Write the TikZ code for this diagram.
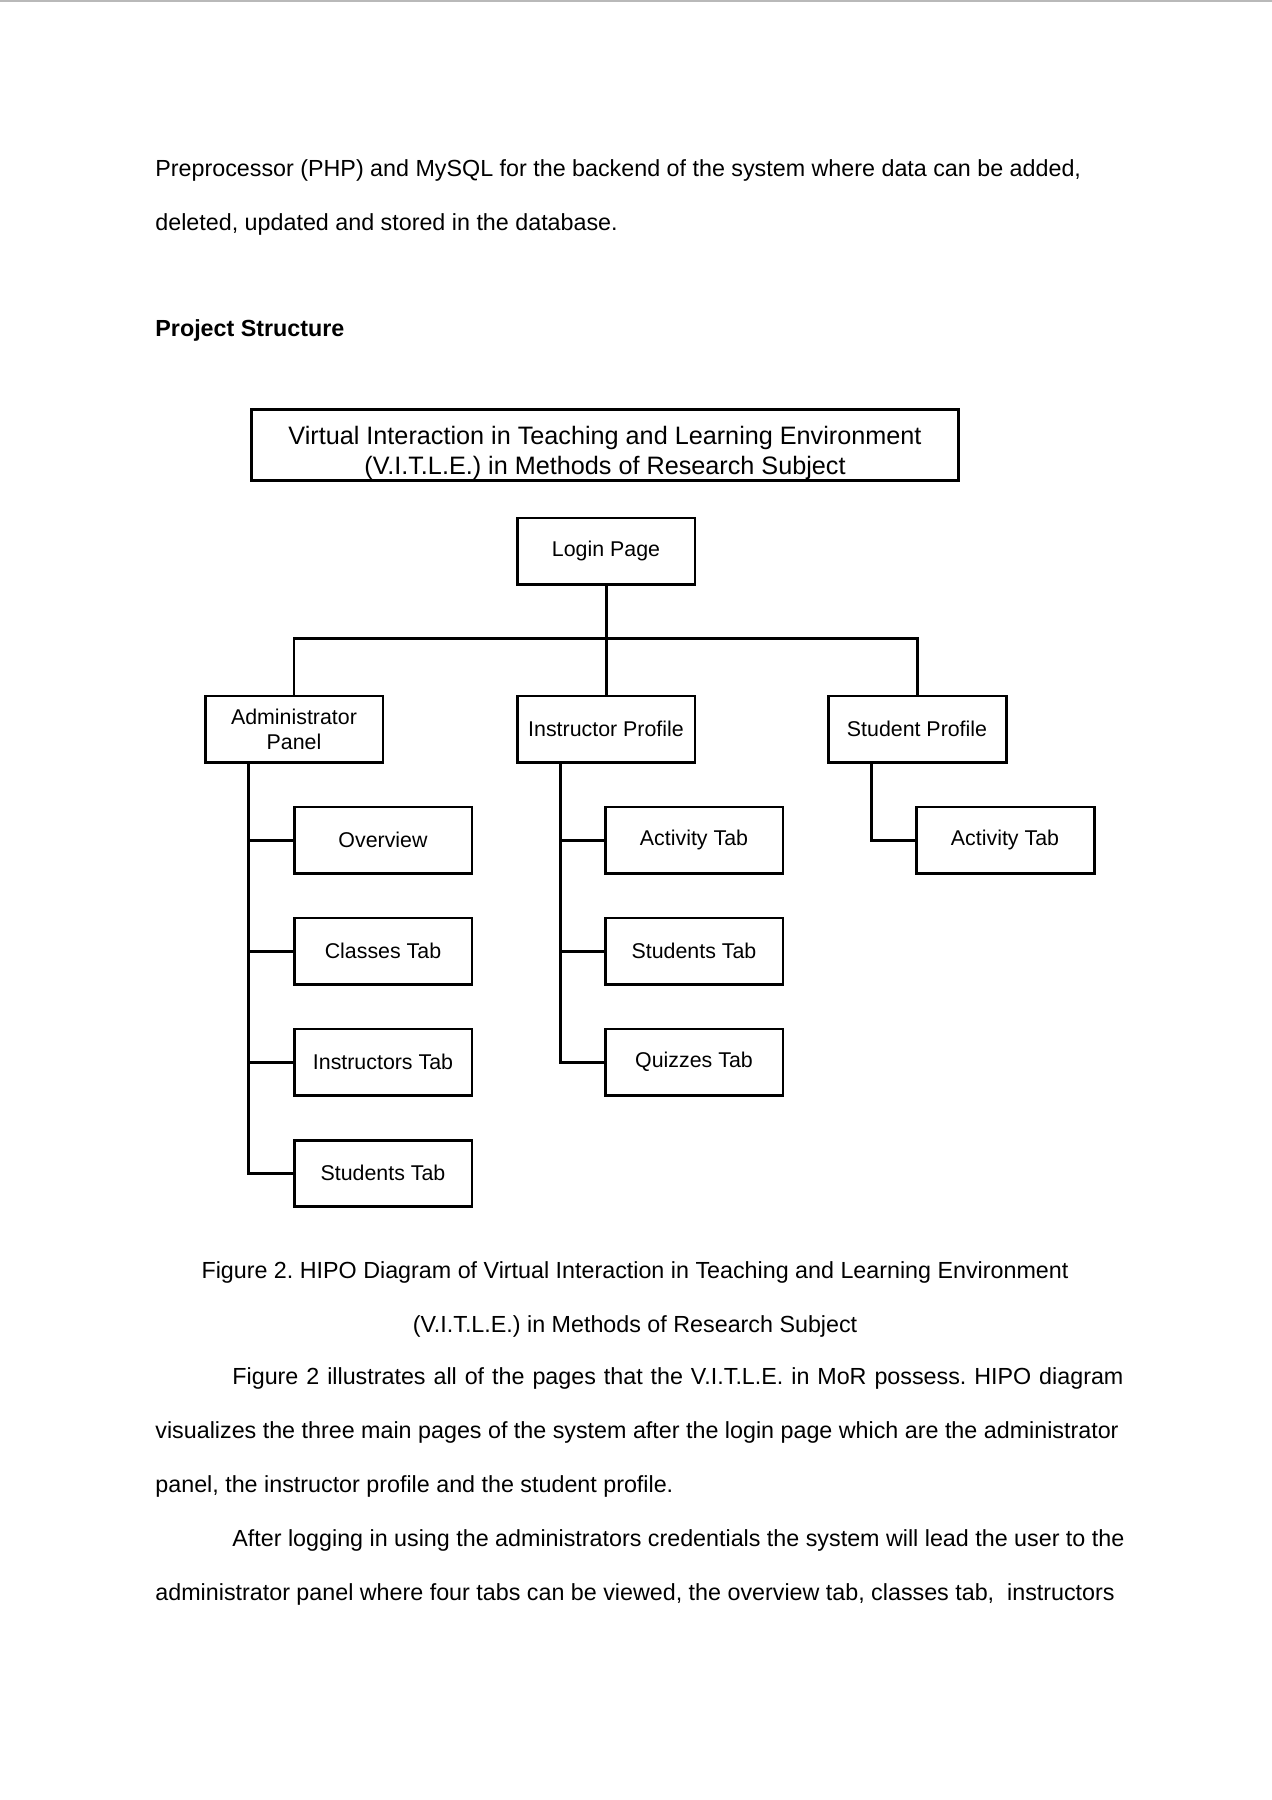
\documentclass[tikz,border=0pt]{standalone}
\usepackage{fontspec}
\setmainfont{Liberation Sans}
\usepackage{tikz}
\usetikzlibrary{calc, positioning}
\frenchspacing

\begin{document}
\begin{tikzpicture}[x=0.468pt, y=-0.468pt,
    box/.style={draw, line width=1.4pt, minimum width=83.3pt, minimum height=30.9pt,
      inner sep=0pt, align=center, font=\fontsize{10}{11.8}\selectfont},
    link/.style={line width=1.4pt},
    bodytext/.style={anchor=base west, inner sep=0pt, font=\fontsize{10.9}{13}\selectfont},
    captext/.style={anchor=base, inner sep=0pt, font=\fontsize{10.9}{13}\selectfont}]
        \useasboundingbox[fill=white] (0,0) rectangle (1272,1800);
        \draw[gray!55, line width=0.9pt] (0,1) -- (1272,1);

        % text above the figure
        \node[bodytext] (p1) at (155,176) {Preprocessor (PHP) and MySQL for the backend of the system where data can be added,};
        \node[bodytext] (p2) at (155,230) {deleted, updated and stored in the database.};
        \node[bodytext, font=\fontsize{10.9}{13}\selectfont\bfseries] (head) at (155,336) {Project Structure};

        % the HIPO diagram
        \node[box, minimum width=331.3pt, minimum height=33.2pt, font=\fontsize{11.8}{14}\selectfont] (title) at (605,445)
            {\rule{0pt}{16pt}Virtual Interaction in Teaching and Learning Environment\\(V.I.T.L.E.) in Methods of Research Subject};

        \node[box] (login) at (606,551) {Login Page};
        \node[box] (admin) at (294,729) {Administrator\\Panel};
        \node[box] (instr) at (606,729) {Instructor Profile};
        \node[box] (stud) at (917,729) {Student Profile};

        \node[box] (overview) at (383,840) {Overview};
        \node[box] (classes) at (383,951) {Classes Tab};
        \node[box] (instrtab) at (383,1062) {Instructors Tab};
        \node[box] (studtab) at (383,1173) {Students Tab};

        \node[box] (iactivity) at (694,840) {Activity Tab};
        \node[box] (istudents) at (694,951) {Students Tab};
        \node[box] (iquizzes) at (694,1062) {Quizzes Tab};

        \node[box] (sactivity) at (1005,840) {Activity Tab};

        \coordinate (bus) at (606,638);
        \draw[link] (login.south) -- (instr.north);
        \draw[link] (admin.north) |- (bus) -| (stud.north);

        \coordinate (aroot) at ($(admin.south west)!.25!(admin.south east)$);
        \coordinate (iroot) at ($(instr.south west)!.25!(instr.south east)$);
        \coordinate (sroot) at ($(stud.south west)!.25!(stud.south east)$);

        \foreach \kid in {overview, classes, instrtab, studtab}
            \draw[link] (aroot) |- (\kid.west);
        \foreach \kid in {iactivity, istudents, iquizzes}
            \draw[link] (iroot) |- (\kid.west);
        \draw[link] (sroot) |- (sactivity.west);

        % caption and text below
        \node[captext] (cap1) at (635,1278) {Figure 2. HIPO Diagram of Virtual Interaction in Teaching and Learning Environment};
        \node[captext] (cap2) at (635,1332) {(V.I.T.L.E.) in Methods of Research Subject};

        \node[bodytext] (q1) at (232,1384) {\makebox[417pt][s]{Figure 2 illustrates all of the pages that the V.I.T.L.E. in MoR possess. HIPO diagram}};
        \node[bodytext] (q2) at (155,1438) {visualizes the three main pages of the system after the login page which are the administrator};
        \node[bodytext] (q3) at (155,1492) {panel, the instructor profile and the student profile.};
        \node[bodytext] (q4) at (232,1546) {After logging in using the administrators credentials the system will lead the user to the};
        \node[bodytext] (q5) at (155,1600) {administrator panel where four tabs can be viewed, the overview tab, classes tab,\ \ instructors};
\end{tikzpicture}
\end{document}
